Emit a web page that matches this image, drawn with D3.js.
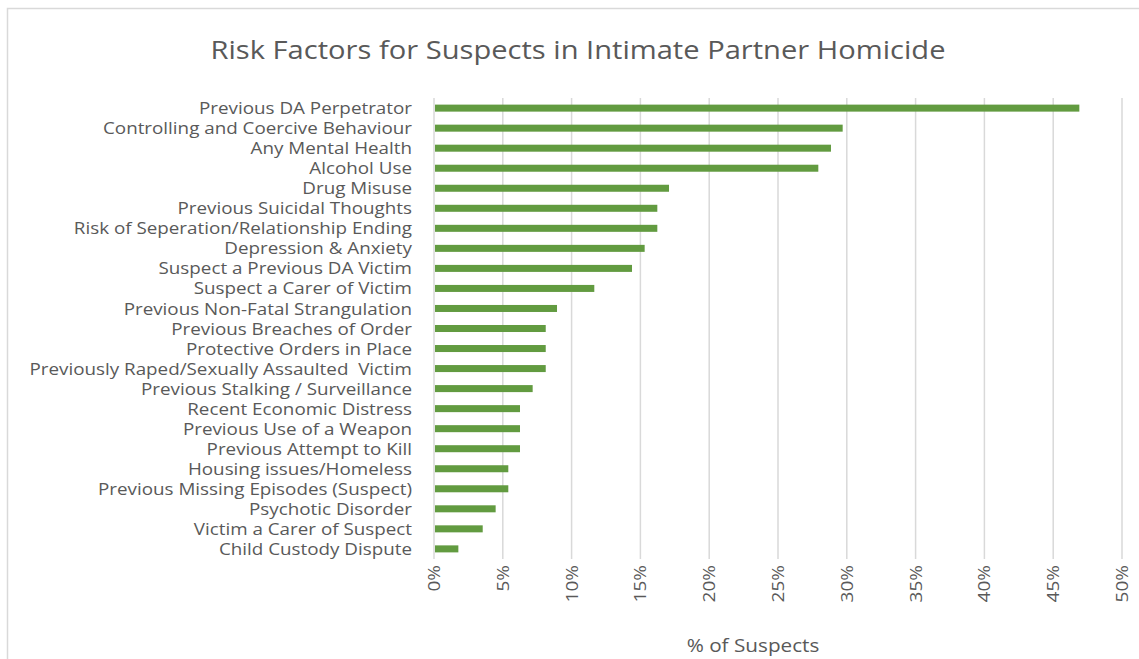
<!DOCTYPE html>
<html>
<head>
<meta charset="utf-8">
<script src="https://cdn.jsdelivr.net/npm/d3@7"></script>
<style>
  body { margin: 0; background: #fff; }
  svg text { font-family: "Open Sans", Lato, sans-serif; fill: #595959; white-space: pre; }
</style>
</head>
<body>
<div id="root"></div>
<script>
var categories = [
    "Previous DA Perpetrator",
    "Controlling and Coercive Behaviour",
    "Any Mental Health",
    "Alcohol Use",
    "Drug Misuse",
    "Previous Suicidal Thoughts",
    "Risk of Seperation/Relationship Ending",
    "Depression & Anxiety",
    "Suspect a Previous DA Victim",
    "Suspect a Carer of Victim",
    "Previous Non-Fatal Strangulation",
    "Previous Breaches of Order",
    "Protective Orders in Place",
    "Previously Raped/Sexually Assaulted  Victim",
    "Previous Stalking / Surveillance",
    "Recent Economic Distress",
    "Previous Use of a Weapon",
    "Previous Attempt to Kill",
    "Housing issues/Homeless",
    "Previous Missing Episodes (Suspect)",
    "Psychotic Disorder",
    "Victim a Carer of Suspect",
    "Child Custody Dispute"
];
var values = [46.9, 29.7, 28.85, 27.93, 17.08, 16.23, 16.23, 15.31, 14.39, 11.65, 8.94,
              8.12, 8.12, 8.12, 7.17, 6.25, 6.25, 6.25, 5.4, 5.4, 4.48, 3.54, 1.77];
var ticks = [0, 5, 10, 15, 20, 25, 30, 35, 40, 45, 50];

var title = "Risk Factors for Suspects in Intimate Partner Homicide";
var xTitle = "% of Suspects";

var width = 1139, height = 659;
var plot = {left: 434, right: 1122, top: 98, bottom: 559};
var stretch = 1.12; // the source font is wider than what's installed

var svg = d3.select("#root").append("svg")
    .attr("width", width)
    .attr("height", height);

// chart frame (only the left and top edges are inside the picture)
svg.append("rect")
    .attr("x", 7.5).attr("y", 8.5)
    .attr("width", width + 10).attr("height", height + 10)
    .attr("fill", "#fff")
    .attr("stroke", "#d9d9d9")
    .attr("stroke-width", 1.5);

var x = d3.scaleLinear().domain([0, 50]).range([plot.left, plot.right]);
var y = d3.scaleBand().domain(categories).range([plot.top, plot.bottom]).paddingInner(0.65).paddingOuter(0.33);

// gridlines
svg.append("g")
    .selectAll("line")
    .data(ticks)
    .enter()
    .append("line")
    .attr("x1", function(d) { return x(d); })
    .attr("x2", function(d) { return x(d); })
    .attr("y1", plot.top)
    .attr("y2", plot.bottom)
    .attr("stroke", "#d9d9d9")
    .attr("stroke-width", 1.5);

// bars
svg.append("g")
    .selectAll("rect")
    .data(values)
    .enter()
    .append("rect")
    .attr("x", x(0) + 1)
    .attr("y", function(d, i) { return y(categories[i]); })
    .attr("width", function(d) { return x(d) - x(0) - 1; })
    .attr("height", y.bandwidth())
    .attr("fill", "#629b40");

// category labels
svg.append("g")
    .selectAll("text")
    .data(categories)
    .enter()
    .append("text")
    .attr("transform", function(d) {
        return "translate(412," + (y(d) + y.bandwidth() / 2) + ") scale(" + stretch + ",1)";
    })
    .attr("dy", "0.36em")
    .attr("text-anchor", "end")
    .style("font-size", "16.8px")
    .text(function(d) { return d; });

// rotated tick labels
svg.append("g")
    .selectAll("text")
    .data(ticks)
    .enter()
    .append("text")
    .attr("transform", function(d) {
        return "translate(" + (x(d) + 6) + ",565) rotate(-90) scale(" + stretch + ",1)";
    })
    .attr("text-anchor", "end")
    .style("font-size", "17px")
    .text(function(d) { return d + "%"; });

// axis title
svg.append("text")
    .attr("transform", "translate(753,652) scale(" + stretch + ",1)")
    .attr("text-anchor", "middle")
    .style("font-size", "18.5px")
    .text(xTitle);

// chart title
svg.append("text")
    .attr("transform", "translate(578,59) scale(" + stretch + ",1)")
    .attr("text-anchor", "middle")
    .style("font-size", "26px")
    .text(title);
</script>
</body>
</html>
